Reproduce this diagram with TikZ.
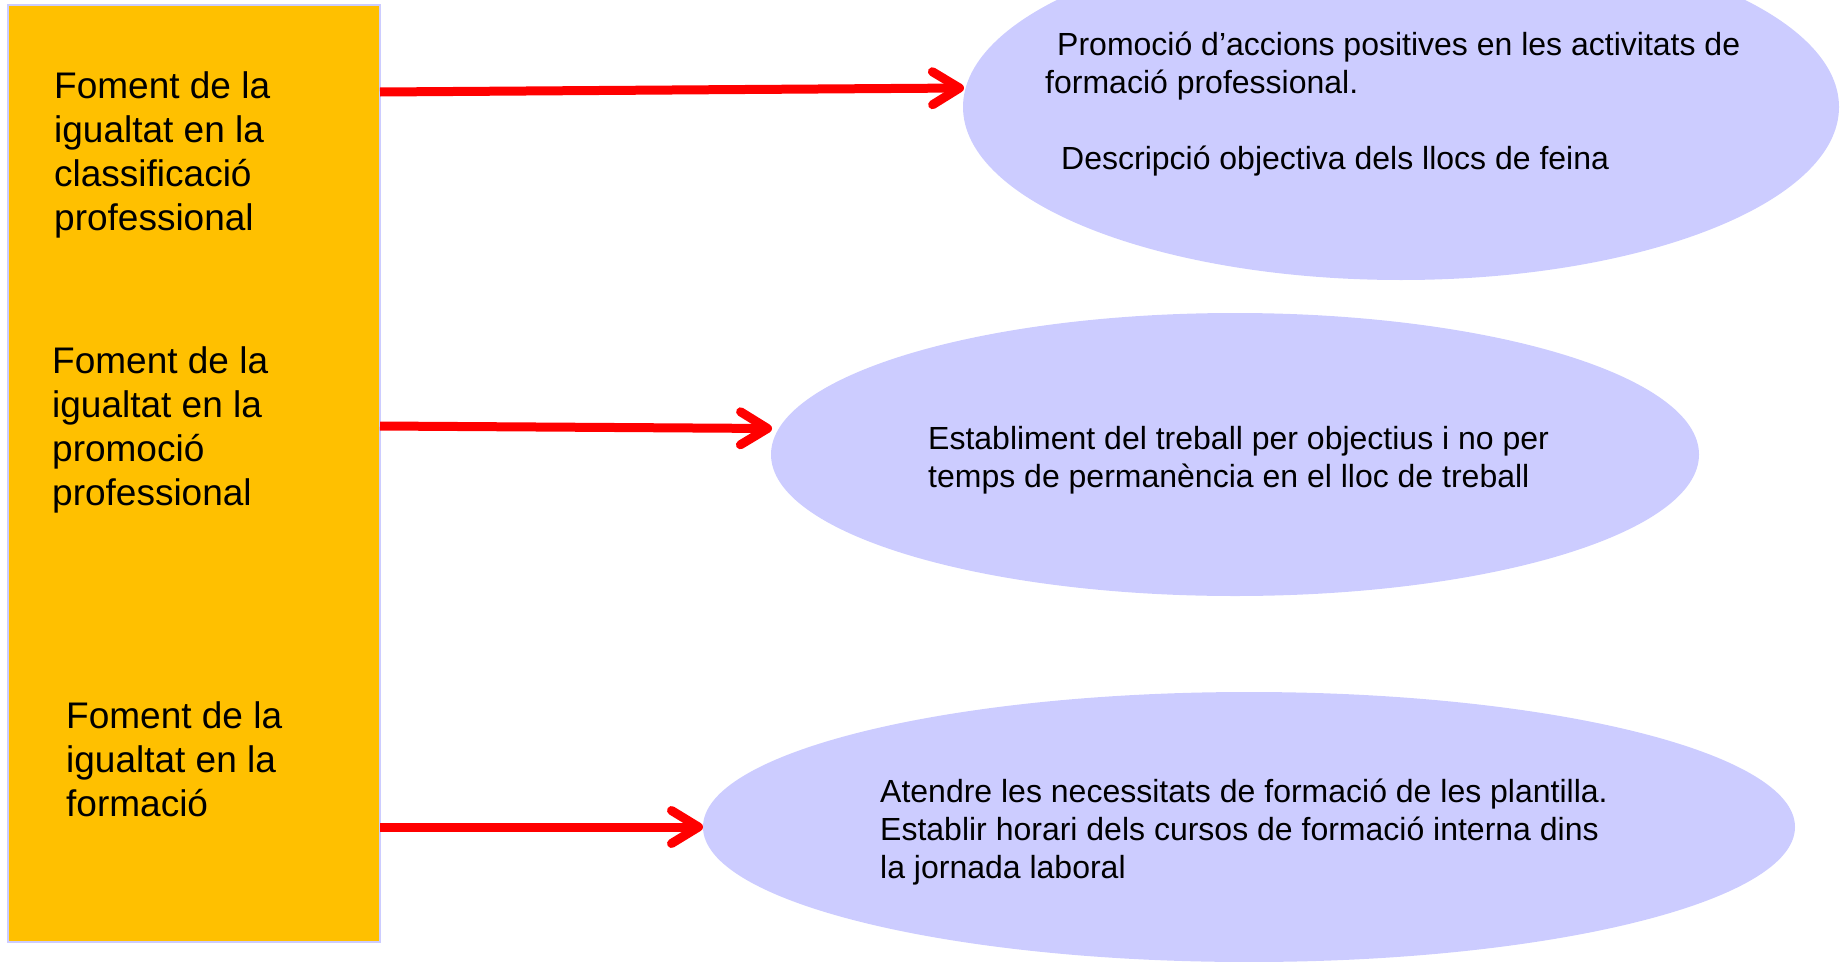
\documentclass[tikz,border=0pt]{standalone}
\usepackage{fontspec}
\setmainfont{Liberation Sans}
\usetikzlibrary{shapes.geometric,arrows.meta}
\definecolor{lav}{HTML}{CCCCFF}
\definecolor{gold}{HTML}{FFC000}
\begin{document}
\begin{tikzpicture}[x=1pt,y=-1pt,
  bubble/.style={ellipse, fill=lav, inner sep=0pt, outer sep=0pt},
  sidebox/.style={draw=lav, line width=2pt, fill=gold, inner sep=0pt, outer sep=0pt, anchor=north west},
  bigtxt/.style={anchor=north west, inner sep=0pt, align=left, font=\fontsize{37}{44}\selectfont},
  smalltxt/.style={anchor=north west, inner sep=0pt, align=left, font=\fontsize{32}{38}\selectfont},
  arr/.style={draw=red, line width=9pt, -{Straight Barb[length=27pt, width=33pt, line cap=round, line join=round]}}]
\useasboundingbox (0,0) rectangle (1844,961);
\clip (0,0) rectangle (1844,961);
% left box
\node[sidebox, minimum width=372pt, minimum height=937pt] (r) at (8,5) {};
% ellipses
\node[bubble, minimum width=876pt, minimum height=346pt] (e1) at (1401,107) {};
\node[bubble, minimum width=928pt, minimum height=283pt] (e2) at (1235,454.5) {};
\node[bubble, minimum width=1092pt, minimum height=270pt] (e3) at (1249,827) {};
% left texts
\node[bigtxt] (t1) at (54,68) {\rule{0pt}{30pt}Foment de la\\igualtat en la\\classificació\\professional};
\node[bigtxt] (t2) at (52,343) {\rule{0pt}{30pt}Foment de la\\igualtat en la\\promoció\\professional};
\node[bigtxt] (t3) at (66,698) {\rule{0pt}{30pt}Foment de la\\igualtat en la\\formació};
% ellipse texts
\node[smalltxt] (u1) at (1045,25) {\rule{0pt}{30pt}\hspace{12pt}Promoció d’accions positives en les activitats de\\formació professional.\\[38pt]\hspace{16pt}Descripció objectiva dels llocs de feina};
\node[smalltxt] (u2) at (928,419) {\rule{0pt}{30pt}Establiment del treball per objectius i no per\\temps de permanència en el lloc de treball};
\node[smalltxt] (u3) at (880,772) {\rule{0pt}{30pt}Atendre les necessitats de formació de les plantilla.\\Establir horari dels cursos de formació interna dins\\la jornada laboral};
% arrows
\draw[arr] (r.east |- 0,92) -- ([xshift=1pt,yshift=19pt]e1.west);
\draw[arr] (r.east |- 0,426) -- ([xshift=1pt,yshift=26pt]e2.west);
\draw[arr] (r.east |- 0,827) -- (e3.west);
\end{tikzpicture}
\end{document}
